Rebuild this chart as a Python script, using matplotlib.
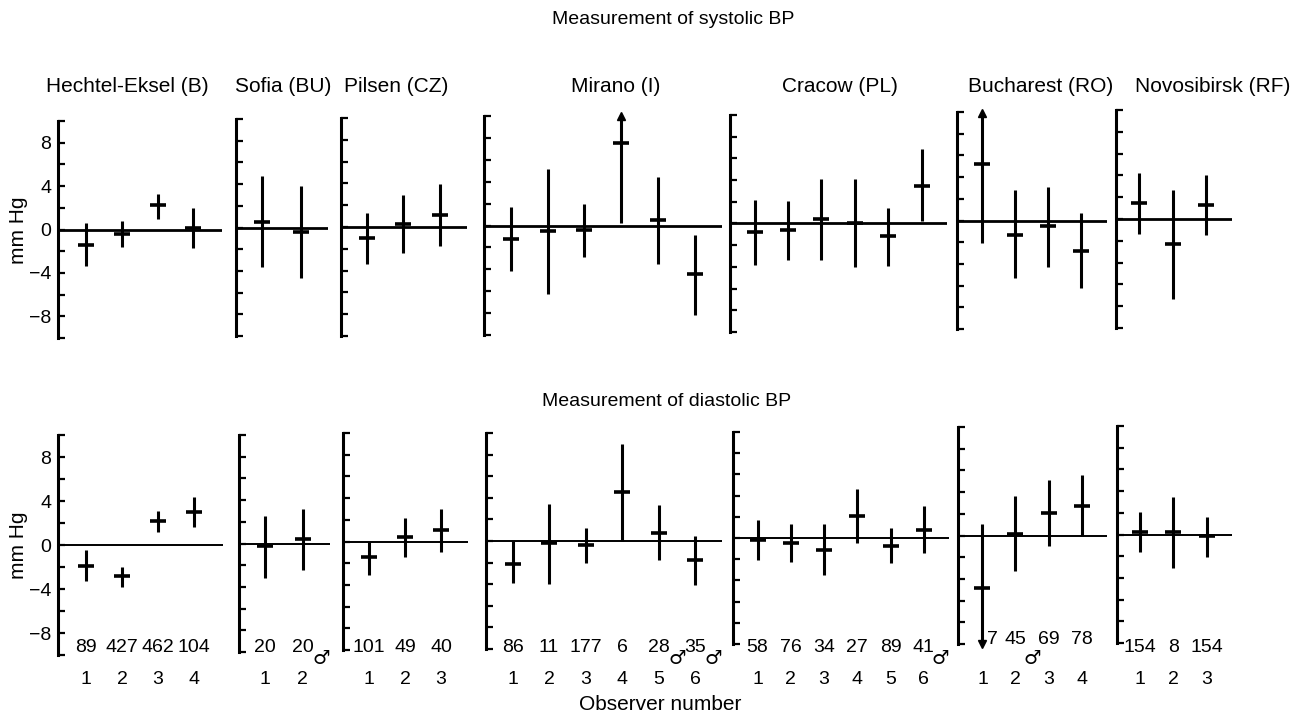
import matplotlib
matplotlib.use("Agg")
import matplotlib.pyplot as plt
from matplotlib import transforms

plt.rcParams['font.family'] = ['Liberation Sans', 'DejaVu Sans']

# dane
centres = ["Hechtel-Eksel (B)", "Sofia (BU)", "Pilsen (CZ)", "Mirano (I)",
           "Cracow (PL)", "Bucharest (RO)", "Novosibirsk (RF)"]

# cisnienie skurczowe (srednia, dol i gora slupka)
sysMean = [[-1.4, -0.4, 2.25, 0.1],
           [0.55, -0.4],
           [-1.05, 0.25, 1.1],
           [-1.2, -0.5, -0.4, 7.5, 0.5, -4.45],
           [-0.8, -0.6, 0.4, 0.0, -1.15, 3.45],
           [5.2, -1.3, -0.55, -2.8],
           [1.45, -2.3, 1.3]]
sysLow = [[-3.4, -1.6, 1.0, -1.7],
          [-3.6, -4.7],
          [-3.4, -2.35, -1.7],
          [-4.2, -6.3, -2.9, 0.2, -3.55, -8.2],
          [-3.8, -3.4, -3.4, -4.0, -3.9, 0.25],
          [-2.1, -5.3, -4.25, -6.2],
          [-1.4, -7.3, -1.45]]
sysHigh = [[0.6, 0.8, 3.3, 1.95],
           [4.75, 3.8],
           [1.25, 2.9, 3.95],
           [1.65, 5.2, 2.0, 10.0, 4.45, -0.87],
           [2.2, 2.1, 4.1, 4.1, 1.4, 6.85],
           [9.9, 2.8, 3.05, 0.65],
           [4.2, 2.65, 4.05]]

# cisnienie rozkurczowe
diaMean = [[-1.9, -2.8, 2.2, 3.0],
           [-0.25, 0.4],
           [-1.45, 0.4, 1.05],
           [-2.15, -0.15, -0.35, 4.55, 0.75, -1.8],
           [-0.15, -0.5, -1.15, 2.1, -0.75, 0.8],
           [-4.8, 0.15, 2.05, 2.7],
           [0.2, 0.2, -0.15]]
diaLow = [[-3.3, -3.8, 1.2, 1.6],
          [-3.2, -2.45],
          [-3.1, -1.4, -0.95],
          [-3.9, -4.0, -2.0, 0.0, -1.75, -4.1],
          [-2.1, -2.3, -3.5, -0.5, -2.4, -1.4],
          [-10.0, -3.3, -1.0, 0.0],
          [-1.6, -3.1, -2.05]]
diaHigh = [[-0.45, -2.0, 3.1, 4.35],
           [2.5, 3.15],
           [0.0, 2.2, 3.0],
           [0.0, 3.4, 1.2, 9.0, 3.3, 0.45],
           [1.7, 1.3, 1.3, 4.65, 0.95, 3.0],
           [1.1, 3.6, 5.15, 5.6],
           [2.1, 3.5, 1.6]]

counts = [[89, 427, 462, 104],
          [20, 20],
          [101, 49, 40],
          [86, 11, 177, 6, 28, 35],
          [58, 76, 34, 27, 89, 41],
          [7, 45, 69, 78],
          [154, 8, 154]]

# obserwatorzy, za ktorymi stoi znak meski
maleAfter = [[], [2], [], [5, 6], [6], [2], []]

# uklad w pikselach: lewo, prawo, gora, dol
W, H = 1296, 717
topRow = [(58, 222, 121, 338), (236, 328, 119, 336), (341, 467, 118, 336),
          (484, 722, 116, 335), (730, 947, 115, 332), (957, 1107, 112, 329),
          (1116, 1232, 110, 328)]
bottomRow = [(58, 223, 435, 655), (239, 330, 435, 652), (343, 468, 433, 650),
             (486, 722, 433, 649), (733, 949, 432, 644), (958, 1107, 427, 644),
             (1117, 1232, 426, 643)]
xRanges = [(0.22, 4.8), (0.31, 2.72), (0.28, 3.75), (0.27, 6.74),
           (0.26, 6.76), (0.26, 4.77), (0.31, 3.76)]
titleX = [127, 283, 396, 616, 840, 1041, 1213]
countY = [648, 648, 648, 648, 648, 640, 648]
# liczba "7" w Bukareszcie stoi obok strzalki
countNudge = {(5, 0): 0.3}

fig = plt.figure(figsize=(12.96, 7.17), dpi=100)


def drawPanel(rect, xlim, means, lows, highs, withLabels, refWidth):
    left, right, top, bottom = rect
    ax = fig.add_axes([left / W, 1 - bottom / H, (right - left) / W, (bottom - top) / H])
    ax.patch.set_visible(False)
    ax.set_xlim(xlim)
    ax.set_ylim(-10, 10)
    for s in ['top', 'right', 'bottom']:
        ax.spines[s].set_visible(False)
    ax.spines['left'].set_linewidth(2.2)
    ax.set_yticks(range(-10, 11, 2))
    ax.tick_params(axis='y', direction='in', length=5, width=1.6, labelsize=14, pad=5)
    ax.tick_params(axis='x', bottom=False, labelbottom=False)
    if withLabels:
        ax.set_yticklabels(['', '\u22128', '', '\u22124', '', '0', '', '4', '', '8', ''])
    else:
        ax.set_yticklabels([])

    ax.axhline(0, color='black', lw=refWidth)
    x = list(range(1, len(means) + 1))
    ax.vlines(x, lows, highs, color='black', lw=2.2)
    ax.plot(x, means, linestyle='none', marker='_', ms=11, mew=2.6, color='black')

    # strzalki gdy slupek wychodzi poza skale
    for xi, lo, hi in zip(x, lows, highs):
        if hi >= 9.9:
            ax.plot(xi, hi, marker='^', ms=6, color='black', clip_on=False)
        if lo <= -9.9:
            ax.plot(xi, lo, marker='v', ms=6, color='black', clip_on=False)
    return ax


for i in range(len(centres)):
    drawPanel(topRow[i], xRanges[i], sysMean[i], sysLow[i], sysHigh[i], i == 0, 2.0)
    ax = drawPanel(bottomRow[i], xRanges[i], diaMean[i], diaLow[i], diaHigh[i], i == 0, 1.4)

    fig.text(titleX[i] / W, 1 - 86 / H, centres[i], ha='center', va='center', fontsize=15)

    trans = transforms.blended_transform_factory(ax.transData, fig.transFigure)
    for j, n in enumerate(counts[i]):
        ax.text(j + 1 + countNudge.get((i, j), 0), 1 - countY[i] / H, str(n), transform=trans,
                ha='center', va='center', fontsize=14)
        ax.text(j + 1, 1 - 679 / H, str(j + 1), transform=trans,
                ha='center', va='center', fontsize=14)
    for obs in maleAfter[i]:
        ax.text(obs + 0.5, 1 - 659 / H, '\u2642', transform=trans,
                ha='center', va='center', fontsize=14, family='DejaVu Sans')

fig.text(673 / W, 1 - 19 / H, "Measurement of systolic BP", ha='center', va='center', fontsize=14)
fig.text(667 / W, 1 - 401 / H, "Measurement of diastolic BP", ha='center', va='center', fontsize=14)
fig.text(660 / W, 1 - 705 / H, "Observer number", ha='center', va='center', fontsize=15)
fig.text(18 / W, 1 - 230 / H, "mm Hg", rotation=90, ha='center', va='center', fontsize=15)
fig.text(18 / W, 1 - 545 / H, "mm Hg", rotation=90, ha='center', va='center', fontsize=15)

fig.savefig("out.png", dpi=100)
